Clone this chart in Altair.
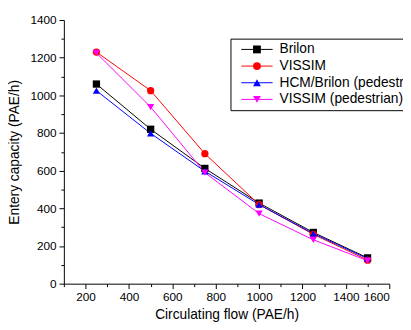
import altair as alt
import pandas as pd

flows = [250, 500, 750, 1000, 1250, 1500]
series_names = ["Brilon", "VISSIM", "HCM/Brilon (pedestrian)", "VISSIM (pedestrian)"]
brilon = [1060, 820, 612, 428, 272, 137]
vissim = [1230, 1025, 690, 420, 262, 125]
hcm = [1025, 798, 597, 420, 266, 133]
vissim_ped = [1225, 938, 590, 372, 233, 122]
colors = ["#000000", "#FF0000", "#0000FF", "#FF00FF"]
shapes = ["square", "circle", "triangle-up", "triangle-down"]

rows = []
for name, vals in zip(series_names, [brilon, vissim, hcm, vissim_ped]):
    for f, v in zip(flows, vals):
        rows.append({"flow": f, "cap": v, "series": name, "ord": series_names.index(name)})
df = pd.DataFrame(rows)

FONT = "Liberation Sans"

x = alt.X("flow:Q", scale=alt.Scale(domain=[100, 1600], nice=False, zero=False),
          axis=alt.Axis(values=list(range(100, 1601, 100)), title="Circulating flow (PAE/h)",
                        format="d", labelOverlap=False,
                        labelExpr="datum.value % 200 == 0 ? datum.label : ''",
                        tickSize={"expr": "datum.value % 200 == 0 ? 5 : 3"},
                        titlePadding=6))
y = alt.Y("cap:Q", scale=alt.Scale(domain=[0, 1400], nice=False),
          axis=alt.Axis(values=list(range(0, 1401, 100)), title="Entery capacity (PAE/h)",
                        format="d", labelOverlap=False,
                        labelExpr="datum.value % 200 == 0 ? datum.label : ''",
                        tickSize={"expr": "datum.value % 200 == 0 ? 5 : 3"},
                        titlePadding=9))

cscale = alt.Scale(domain=series_names, range=colors)
sscale = alt.Scale(domain=series_names, range=shapes)

LX, LY = 170, 19
common = dict(orient="none", title=None, labelFont=FONT, labelFontSize=14, labelColor="black",
              labelLimit=400, symbolSize=64, rowPadding=3, padding=4)

line_legend = alt.Legend(legendX=LX, legendY=LY, symbolType="M-4,0H4", symbolStrokeWidth=1,
                         strokeColor="black", labelOffset=16, symbolOffset=16, **common)
pt_legend = alt.Legend(legendX=LX, legendY=LY, labelOffset=16, symbolOffset=16, labelOpacity=0, **common)

lines = alt.Chart(df).mark_line(strokeWidth=1).encode(
    x=x, y=y,
    color=alt.Color("series:N", scale=cscale, legend=line_legend),
    order="flow:Q",
)
points = alt.Chart(df).mark_point(filled=True, size=55, opacity=1).encode(
    x=x, y=y,
    color=alt.Color("series:N", scale=cscale, legend=pt_legend),
    shape=alt.Shape("series:N", scale=sscale, legend=pt_legend),
    order="ord:Q",
)

chart = alt.layer(lines, points).resolve_legend(color="independent", shape="independent").properties(
    width=332, height=269,
    autosize=alt.AutoSizeParams(type="none"),
    padding={"left": 57, "top": 9, "right": 14, "bottom": 44},
    background="white",
).configure_view(stroke=None).configure_axis(
    domainColor="black", tickColor="black", labelColor="black", titleColor="black",
    labelFont=FONT, titleFont=FONT, labelFontSize=12, titleFontSize=14, titleFontWeight="normal",
    grid=False, labelPadding=3, domainWidth=1, tickWidth=1,
)

chart.save("out.html", embed_options={"renderer": "svg", "actions": False})
